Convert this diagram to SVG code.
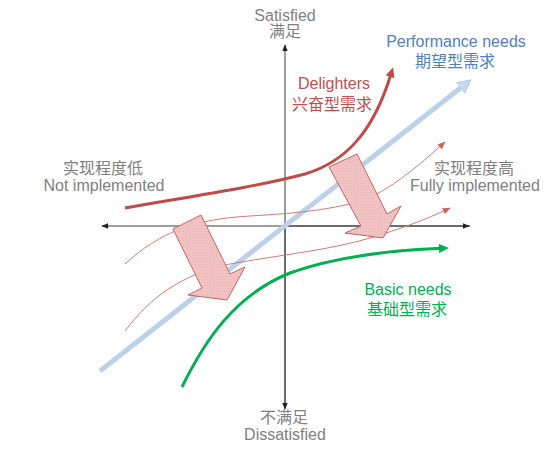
<svg xmlns="http://www.w3.org/2000/svg" width="554" height="451" viewBox="0 0 554 451">
<style>
  .t { font-family: "Liberation Sans", "Noto Sans CJK SC", Arial, sans-serif; font-size: 16px; text-anchor: middle; }
  .gray { fill: #808080; }
  .red { fill: #c0504d; }
  .blue { fill: #4f81bd; }
  .green { fill: #00b050; }
  .axis { stroke: #3a3a3a; stroke-width: 1; fill: none; }
  .thin { stroke: #d27a77; stroke-width: 1; fill: none; }
  .big { fill: url(#dots); stroke: #c9605d; stroke-width: 1; stroke-linejoin: miter; }
</style>
<defs>
  <pattern id="dots" width="3" height="3" patternUnits="userSpaceOnUse">
    <rect width="3" height="3" fill="#f2c6c6"/>
    <rect x="0" y="0" width="1" height="1" fill="#e7abab"/>
    <rect x="1.5" y="1.5" width="1" height="1" fill="#ebb5b5"/>
  </pattern>
  <marker id="ax" markerUnits="userSpaceOnUse" viewBox="0 0 10 10" refX="9" refY="5" markerWidth="7" markerHeight="7" orient="auto">
    <path d="M0,1 L10,5 L0,9 z" fill="#222"/>
  </marker>
  <marker id="thinA" markerUnits="userSpaceOnUse" viewBox="0 0 10 10" refX="9" refY="5" markerWidth="8" markerHeight="8" orient="auto">
    <path d="M0,1 L10,5 L0,9 z" fill="#d0615e"/>
  </marker>
  <marker id="redA" markerUnits="userSpaceOnUse" viewBox="0 0 10 10" refX="3" refY="5" markerWidth="10" markerHeight="10" orient="auto">
    <path d="M0,0.5 L10,5 L0,9.5 z" fill="#be4b48"/>
  </marker>
  <marker id="greenA" markerUnits="userSpaceOnUse" viewBox="0 0 10 10" refX="3" refY="5" markerWidth="10" markerHeight="10" orient="auto">
    <path d="M0,0.5 L10,5 L0,9.5 z" fill="#00b050"/>
  </marker>
  <marker id="blueA" markerUnits="userSpaceOnUse" viewBox="0 0 14 14" refX="3" refY="7" markerWidth="14" markerHeight="14" orient="auto">
    <path d="M0,0.5 L13,7 L0,13.5 z" fill="#c6d9f1" stroke="#b3c8e3" stroke-width="1"/>
  </marker>
</defs>

<g id="connectors">
  <line id="axis-x" class="axis" x1="470" y1="226" x2="102" y2="226" marker-end="url(#ax)"/>
  <line id="axis-x-r" class="axis" x1="285" y1="226" x2="469" y2="226" marker-end="url(#ax)"/>
  <line id="axis-y-up" class="axis" x1="285" y1="408" x2="285" y2="45" marker-end="url(#ax)"/>
  <line id="axis-y-down" class="axis" x1="285" y1="226" x2="285" y2="409" marker-end="url(#ax)"/>
  <line id="performance" x1="100" y1="371" x2="463" y2="86" stroke="#bcd0e8" stroke-width="5" marker-end="url(#blueA)"/>
  <path id="thin1" class="thin" d="M125,264 C160,232 195,219 250,216 C300,213 345,209 375,195 C400,182 425,160 445,142" marker-end="url(#thinA)"/>
  <path id="thin2" class="thin" d="M125,331 C150,298 180,275 230,264 C280,255 330,250 370,238 C400,229 425,220 450,208" marker-end="url(#thinA)"/>
  <path id="delighters" d="M125,208 C200,195 260,186 305,174 C345,162 373,133 391,74" fill="none" stroke="#be4b48" stroke-width="3" marker-end="url(#redA)"/>
  <path id="basic" d="M182,387 C205,340 235,295 290,273 C340,255 400,250 442,248.3" fill="none" stroke="#00b050" stroke-width="3" marker-end="url(#greenA)"/>
</g>

<g id="arrow-left">
  <polygon class="big" points="173,229 201,215 230,274 245,267 227,300 188,295 202,288"/>
</g>
<g id="arrow-right">
  <polygon class="big" points="329,167 357,154 387,214 401,206 383,238 345,233 361,226"/>
</g>

<g id="label-satisfied">
  <text class="t gray" x="285" y="21">Satisfied</text>
  <text class="t gray" x="285" y="37">满足</text>
</g>
<g id="label-dissatisfied">
  <text class="t gray" x="284" y="423">不满足</text>
  <text class="t gray" x="285" y="440">Dissatisfied</text>
</g>
<g id="label-not-implemented">
  <text class="t gray" x="103" y="174">实现程度低</text>
  <text class="t gray" x="104" y="191">Not implemented</text>
</g>
<g id="label-fully-implemented">
  <text class="t gray" x="474" y="174">实现程度高</text>
  <text class="t gray" x="475" y="191">Fully implemented</text>
</g>
<g id="label-performance">
  <text class="t blue" x="456" y="47">Performance needs</text>
  <text class="t blue" x="455" y="67">期望型需求</text>
</g>
<g id="label-delighters">
  <text class="t red" x="334" y="89">Delighters</text>
  <text class="t red" x="332" y="110">兴奋型需求</text>
</g>
<g id="label-basic">
  <text class="t green" x="408" y="295">Basic needs</text>
  <text class="t green" x="407" y="315">基础型需求</text>
</g>
</svg>
